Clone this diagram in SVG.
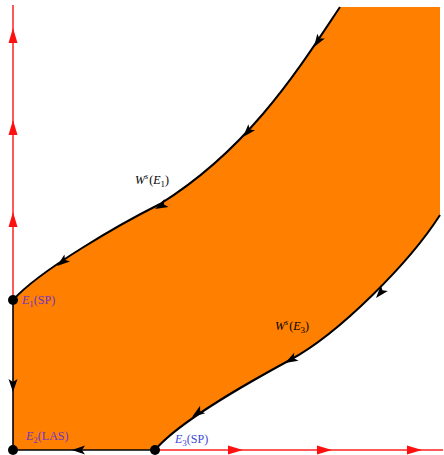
<svg xmlns="http://www.w3.org/2000/svg" width="444" height="455" viewBox="0 0 444 455">
<style>
.curve{fill:none;stroke:#000;stroke-width:2;stroke-linejoin:round}
.red{fill:none;stroke:#ff2020;stroke-width:1.5}
.blk{fill:none;stroke:#000;stroke-width:1.6}
.lbl{font-family:"Liberation Serif","DejaVu Serif",serif;font-size:12px}
.it{font-style:italic}
.pur{fill:#7033c8}
.blu{fill:#3a48d0}
</style>
<defs>
<path id="ar" d="M0,0 L-15,-4.5 L-15,4.5 Z" fill="#ff1010"/>
<path id="ab" d="M0,0 L-13,-4.5 L-10,0 L-13,4.5 Z" fill="#000"/>
</defs>
<rect width="444" height="455" fill="#fff"/>
<g id="region">
<path d="M340,7 C300,67 250,148 160,204 C120,224 40,270 13,300 L13,450 L155,450 C180,420 255,379 290,360 C340,333 410,262 440,215 L440,7 Z" fill="#ff8000"/>
</g>
<g id="connectors">
<line class="red" x1="13" y1="5" x2="13" y2="300"/>
<line class="blk" x1="13" y1="300" x2="13" y2="450"/>
<line class="blk" x1="13" y1="450" x2="155" y2="450"/>
<line class="red" x1="155" y1="450" x2="443" y2="450"/>
<path id="ws1" class="curve" d="M340,7 C300,67 250,148 160,204 C120,224 40,270 13,300"/>
<path id="ws3" class="curve" d="M440,215 C410,262 340,333 290,360 C255,379 180,420 155,450"/>
<use href="#ar" transform="translate(13,28) rotate(-90)"/>
<use href="#ar" transform="translate(13,120) rotate(-90)"/>
<use href="#ar" transform="translate(13,212) rotate(-90)"/>
<use href="#ar" transform="translate(243,450)"/>
<use href="#ar" transform="translate(332,450)"/>
<use href="#ar" transform="translate(422,450)"/>
<use href="#ab" transform="translate(13,392) rotate(90)"/>
<use href="#ab" transform="translate(72,450) rotate(180)"/>
<use href="#ab" transform="translate(314,47) rotate(123)"/>
<use href="#ab" transform="translate(243,137) rotate(132)"/>
<use href="#ab" transform="translate(155,209) rotate(153)"/>
<use href="#ab" transform="translate(57,266) rotate(142)"/>
<use href="#ab" transform="translate(376,298) rotate(130)"/>
<use href="#ab" transform="translate(285,363) rotate(151)"/>
<use href="#ab" transform="translate(192,417) rotate(145)"/>
</g>
<g id="E1">
<circle cx="13" cy="300" r="5" fill="#000"/>
<text class="lbl pur" x="22" y="304"><tspan class="it">E</tspan><tspan font-size="9" dy="3">1</tspan><tspan dy="-3">(SP)</tspan></text>
</g>
<g id="E2">
<circle cx="13" cy="450" r="5" fill="#000"/>
<text class="lbl pur" x="26" y="440"><tspan class="it">E</tspan><tspan font-size="9" dy="3">2</tspan><tspan dy="-3">(LAS)</tspan></text>
</g>
<g id="E3">
<circle cx="155" cy="450" r="5" fill="#000"/>
<text class="lbl blu" x="175" y="443"><tspan class="it">E</tspan><tspan font-size="9" dy="3">3</tspan><tspan dy="-3">(SP)</tspan></text>
</g>
<g id="labels">
<text class="lbl" x="135" y="184" fill="#000"><tspan class="it">W</tspan><tspan class="it" font-size="8" dy="-5">s</tspan><tspan dy="5" dx="1">(</tspan><tspan class="it">E</tspan><tspan font-size="9" dy="3">1</tspan><tspan dy="-3">)</tspan></text>
<text class="lbl" x="275" y="330" fill="#000"><tspan class="it">W</tspan><tspan class="it" font-size="8" dy="-5">s</tspan><tspan dy="5" dx="1">(</tspan><tspan class="it">E</tspan><tspan font-size="9" dy="3">3</tspan><tspan dy="-3">)</tspan></text>
</g>
</svg>
